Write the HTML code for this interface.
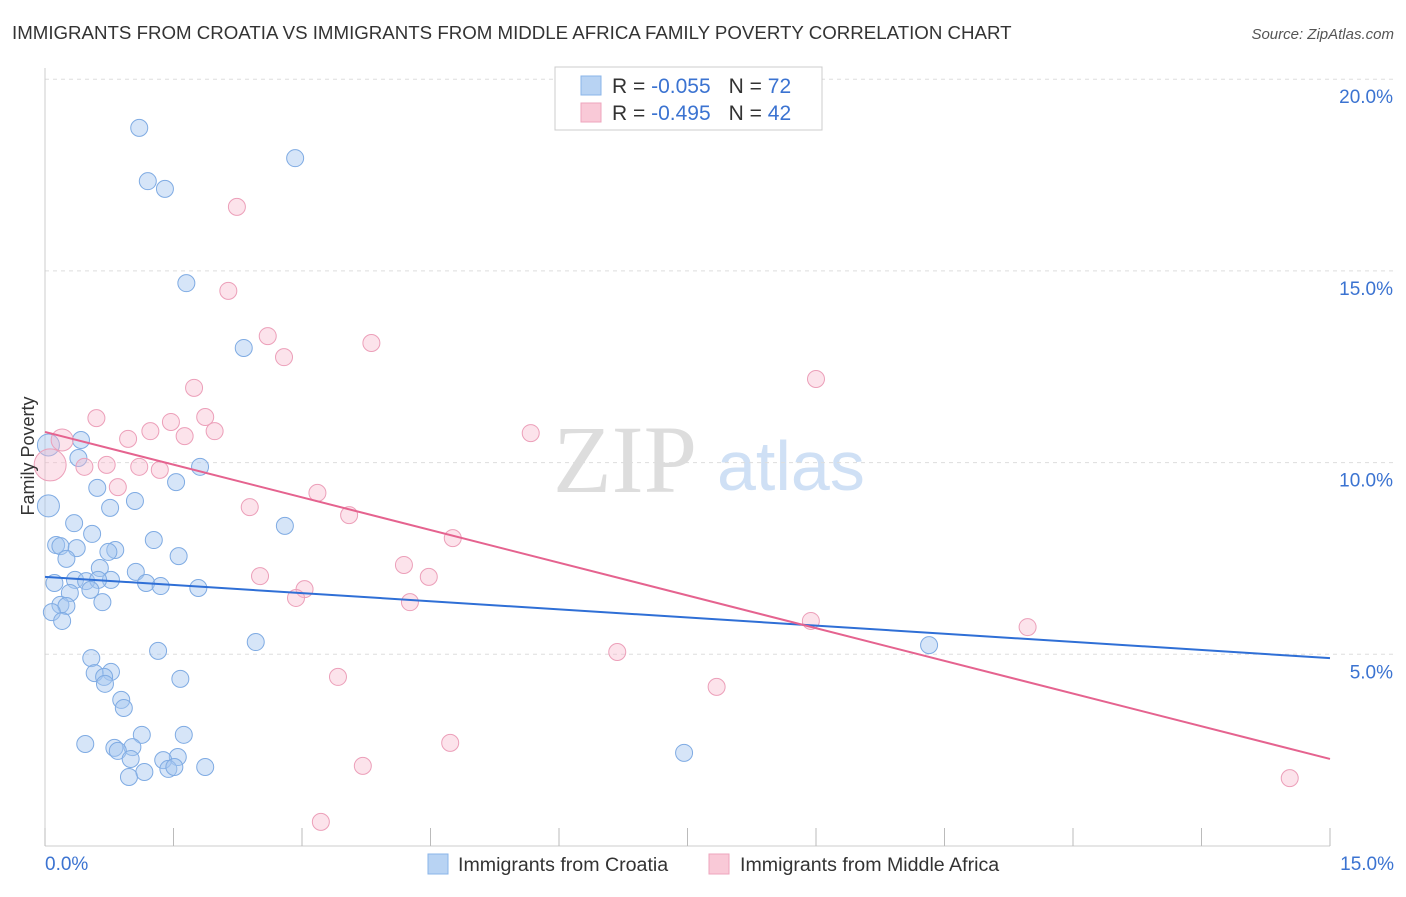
<!DOCTYPE html>
<html><head><meta charset="utf-8">
<style>
body{margin:0;background:#fff;font-family:"Liberation Sans",sans-serif;}
svg text{font-family:"Liberation Sans",sans-serif;}
</style></head>
<body>
<svg id="chart" width="1406" height="892" xmlns="http://www.w3.org/2000/svg">
<text x="12" y="39" font-size="18.7" fill="#333">IMMIGRANTS FROM CROATIA VS IMMIGRANTS FROM MIDDLE AFRICA FAMILY POVERTY CORRELATION CHART</text>
<text x="1394" y="39" font-size="15" fill="#555" text-anchor="end" font-style="italic">Source: ZipAtlas.com</text>
<g>
<text x="553" y="492" font-size="96" fill="#ddd" style="font-family:'Liberation Serif',serif">ZIP</text>
<text x="717" y="490" font-size="70" fill="#cfe0f5">atlas</text>
</g>
<g id="grid"></g>
<g id="axes"></g>
<g id="dots"></g>
<g id="trends"></g>
<text transform="translate(34,456) rotate(-90)" font-size="18" fill="#333" text-anchor="middle">Family Poverty</text>
<g>
<rect x="555" y="67" width="267" height="63" fill="#fff" stroke="#ccc"/>
<rect x="581" y="76" width="20" height="19" fill="#b8d3f3" stroke="#8ab4e8"/>
<rect x="581" y="103" width="20" height="19" fill="#f9c9d7" stroke="#eea5bd"/>
<text x="612" y="93" font-size="21" fill="#333">R = <tspan fill="#3b73d1">-0.055</tspan><tspan dx="18">N = </tspan><tspan fill="#3b73d1">72</tspan></text>
<text x="612" y="120" font-size="21" fill="#333">R = <tspan fill="#3b73d1">-0.495</tspan><tspan dx="18">N = </tspan><tspan fill="#3b73d1">42</tspan></text>
</g>
<g>
<rect x="428" y="854" width="20" height="20" fill="#b8d3f3" stroke="#8ab4e8"/>
<text x="458" y="871" font-size="19.6" fill="#333">Immigrants from Croatia</text>
<rect x="709" y="854" width="20" height="20" fill="#f9c9d7" stroke="#eea5bd"/>
<text x="740" y="871" font-size="19.6" fill="#333">Immigrants from Middle Africa</text>
</g>
</svg>
<script>
const blueX=[1.10,2.92,1.20,1.40,1.65,2.32,0.42,0.04,0.39,1.81,1.53,0.61,1.05,0.76,0.04,2.80,0.34,0.55,1.27,0.13,0.18,0.37,0.82,0.74,1.56,0.25,0.64,1.06,0.35,0.77,0.11,0.48,0.62,1.18,1.35,1.79,0.53,0.29,0.67,0.18,0.25,0.08,0.20,2.46,1.32,10.32,0.54,0.77,0.58,0.69,0.70,1.58,0.89,0.92,1.13,1.62,0.47,0.81,1.02,0.85,1.55,1.38,1.00,1.87,1.44,1.16,1.51,0.98,7.46];
const blueY=[18.73,17.94,17.34,17.14,14.68,12.99,10.59,10.46,10.12,9.89,9.49,9.34,9.00,8.82,8.87,8.35,8.42,8.14,7.98,7.85,7.82,7.77,7.72,7.67,7.56,7.49,7.25,7.15,6.94,6.94,6.86,6.91,6.94,6.86,6.78,6.73,6.68,6.60,6.36,6.29,6.26,6.10,5.87,5.32,5.09,5.24,4.90,4.54,4.51,4.41,4.23,4.36,3.81,3.60,2.90,2.90,2.66,2.56,2.58,2.48,2.32,2.24,2.27,2.06,2.01,1.93,2.06,1.80,2.43];
const pinkX=[2.24,2.14,2.60,3.81,2.79,9.00,1.74,0.60,1.87,1.47,1.23,1.98,1.63,0.97,5.67,0.20,0.06,0.72,0.46,1.10,1.34,0.85,3.18,2.39,3.55,4.76,4.19,2.51,4.48,3.03,2.93,4.26,8.94,11.47,6.68,3.42,7.84,4.73,3.71,3.22,14.53];
const pinkY=[16.67,14.48,13.30,13.12,12.75,12.18,11.95,11.16,11.19,11.06,10.82,10.82,10.69,10.62,10.77,10.59,9.94,9.94,9.89,9.89,9.81,9.36,9.21,8.84,8.63,8.03,7.33,7.04,7.02,6.70,6.47,6.36,5.87,5.71,5.06,4.41,4.15,2.69,2.09,0.63,1.77];
const blueTrend=[7.02,4.90];
const pinkTrend=[10.80,2.27];
const yTicks=[5,10,15,20];
const yTickLabels=["5.0%","10.0%","15.0%","20.0%"];
const xTickCount=10;
const NS="http://www.w3.org/2000/svg";
const X=v=>45+v/15*1285, Y=v=>846-v/5*191.7;
function el(t,a,p){const e=document.createElementNS(NS,t);for(const k in a)e.setAttribute(k,a[k]);document.getElementById(p).appendChild(e);return e;}
yTicks.forEach((t,i)=>{
 const l=el('line',{x1:45,x2:1394,y1:Y(t),y2:Y(t),stroke:'#ddd','stroke-dasharray':'4,4'},'grid');
 
 
 const tx=el('text',{x:1393,y:Y(t)+24,'font-size':19,fill:'#3b73d1','text-anchor':'end'},'axes');
 tx.textContent=yTickLabels[i];
 
 
});
const ax=el('line',{x1:45,x2:45,y1:68,y2:846,stroke:'#ccc'},'axes');


const bx=el('line',{x1:45,x2:1330,y1:846,y2:846,stroke:'#ccc'},'axes');


for(let i=0;i<=xTickCount;i++){
 const tk=el('line',{x1:X(i*1.5),x2:X(i*1.5),y1:828,y2:846,stroke:'#bbb'},'axes');
 
 
}
const xl0=el('text',{x:45,y:870,'font-size':19,fill:'#3b73d1'},'axes');xl0.textContent='0.0%';


const xl1=el('text',{x:1394,y:870,'font-size':19,fill:'#3b73d1','text-anchor':'end'},'axes');xl1.textContent='15.0%';


blueX.forEach((v,i)=>{
 const c=el('circle',{cx:X(v),cy:Y(blueY[i]),r:(i==14||i==7)?11:8.5,fill:'rgba(164,198,240,0.45)',stroke:'#7fabe3','stroke-width':1},'dots');
 
 
});
pinkX.forEach((v,i)=>{
 const c=el('circle',{cx:X(v),cy:Y(pinkY[i]),r:i==16?16:(i==15?11:8.5),fill:'rgba(247,184,204,0.4)',stroke:'#ec9fb9','stroke-width':1},'dots');
 
 
});
const bl=el('line',{x1:X(0),y1:Y(blueTrend[0]),x2:X(15),y2:Y(blueTrend[1]),stroke:'#2f6fd6','stroke-width':2},'trends');


const pl=el('line',{x1:X(0),y1:Y(pinkTrend[0]),x2:X(15),y2:Y(pinkTrend[1]),stroke:'#e5638f','stroke-width':2},'trends');


</script>
</body></html>
